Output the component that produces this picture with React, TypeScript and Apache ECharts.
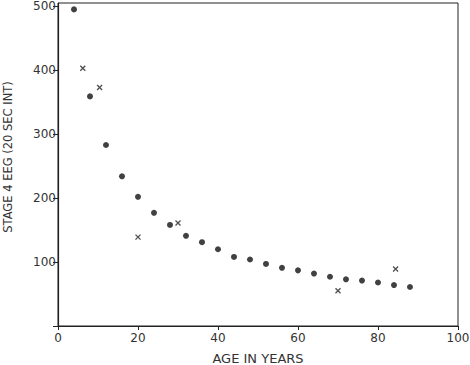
import React, { useEffect, useRef } from "react";
import * as echarts from "echarts";

const dotAges = [4, 8, 12, 16, 20, 24, 28, 32, 36, 40, 44, 48, 52, 56, 60, 64, 68, 72, 76, 80, 84, 88];
const dotValues = [495, 359, 283, 234, 202, 177, 158, 141, 131, 120, 108, 104, 97, 91, 87, 82, 77, 73, 71, 68, 64, 61];
const crossAges = [6.2, 10.4, 20, 30, 70, 84.4];
const crossValues = [403, 373, 139, 161, 55, 89];
const xTicks = [0, 20, 40, 60, 80, 100];
const yTicks = [100, 200, 300, 400, 500];
const yTitle = "STAGE 4 EEG (20 SEC INT)";
const xTitle = "AGE IN YEARS";

const FONT = "DejaVu Sans";

export default function App() {
  const ref = useRef<HTMLDivElement>(null);
  useEffect(() => {
    if (!ref.current) return;
    const chart = echarts.init(ref.current, null, { renderer: "svg" });
    chart.setOption({
      animation: false,
      backgroundColor: "#fff",
      grid: {
        left: 58,
        right: 12,
        top: 3,
        bottom: 39,
        containLabel: false,
        outerBoundsMode: "none",
        show: true,
        borderColor: "#222",
        borderWidth: 1,
      },
      graphic: [
        {
          type: "text",
          x: 8,
          y: 157,
          rotation: Math.PI / 2,
          style: {
            text: yTitle,
            fontFamily: FONT,
            fontSize: 11.5,
            fill: "#333",
            textAlign: "center",
            textVerticalAlign: "middle",
          },
        },
      ],
      xAxis: {
        type: "value",
        min: 0,
        max: 100,
        interval: 20,
        name: xTitle,
        nameLocation: "middle",
        nameGap: 26,
        nameTextStyle: { fontFamily: FONT, fontSize: 13, color: "#333" },
        axisLine: { show: true, lineStyle: { color: "#222", width: 1.2 } },
        axisTick: { show: true, length: 4, lineStyle: { color: "#222" } },
        axisLabel: {
          fontFamily: FONT,
          fontSize: 12,
          color: "#333",
          margin: 6,
          formatter: (v: number) => (xTicks.includes(v) ? String(v) : ""),
        },
        splitLine: { show: false },
      },
      yAxis: {
        type: "value",
        min: 0,
        max: 505,
        interval: 100,
        axisLine: { show: true, lineStyle: { color: "#222", width: 1.2 } },
        axisTick: { show: true, length: 5, lineStyle: { color: "#222" } },
        axisLabel: {
          fontFamily: FONT,
          fontSize: 12,
          color: "#333",
          margin: 2,
          showMaxLabel: false,
          formatter: (v: number) => (yTicks.includes(v) ? String(v) : ""),
        },
        splitLine: { show: false },
      },
      series: [
        {
          type: "scatter",
          data: dotAges.map((a, i) => [a, dotValues[i]]),
          symbol: "circle",
          symbolSize: 6,
          itemStyle: { color: "#111" },
        },
        {
          type: "scatter",
          data: crossAges.map((a, i) => [a, crossValues[i]]),
          symbol: "path://M0,0L10,10M10,0L0,10",
          symbolSize: 5,
          itemStyle: { color: "none", borderColor: "#222", borderWidth: 1.3 },
        },
      ],
    });
    return () => chart.dispose();
  }, []);
  return (
    <div
      ref={ref}
      style={{ position: "absolute", left: 0, top: 0, width: 470, height: 365 }}
    />
  );
}
